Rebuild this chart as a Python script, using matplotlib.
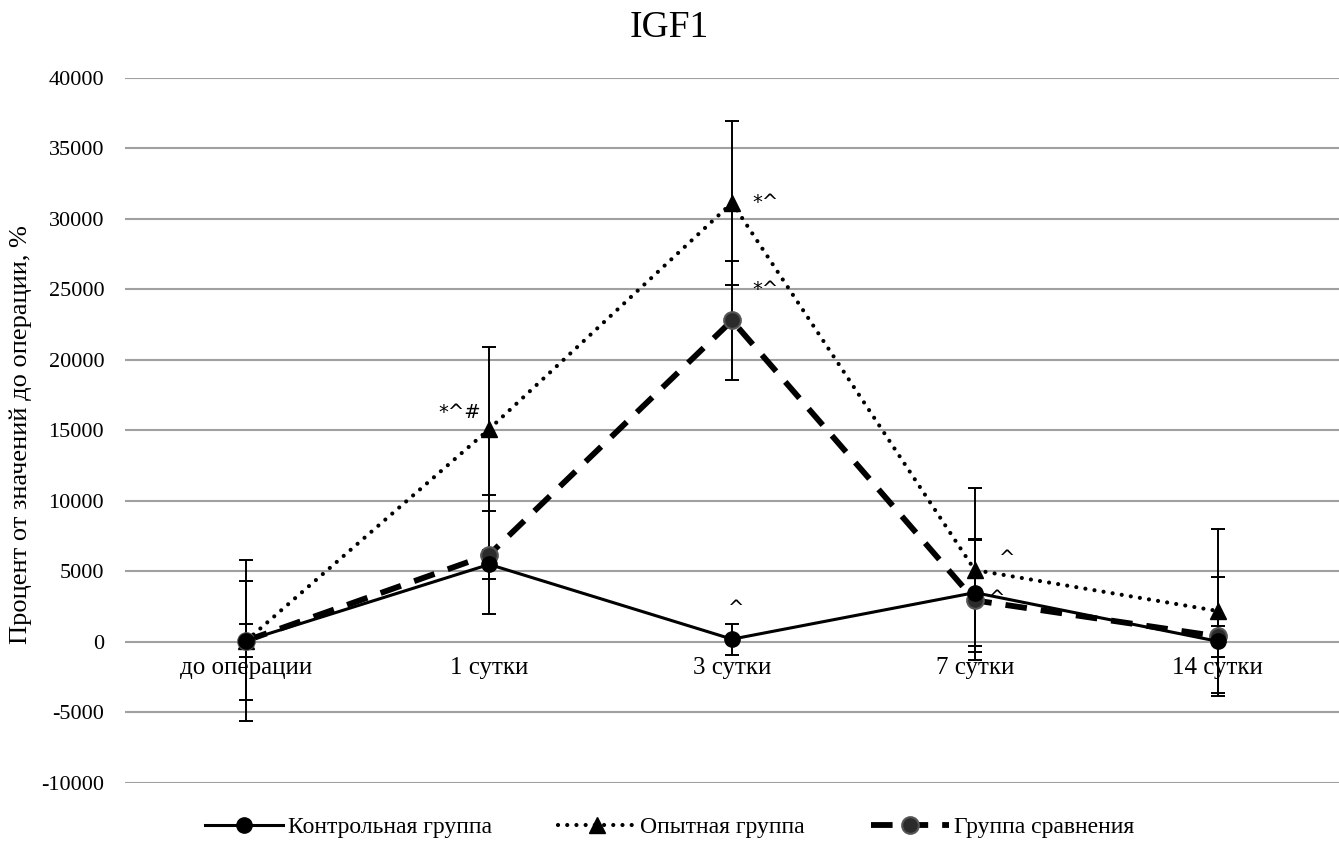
import matplotlib
matplotlib.use("Agg")
import matplotlib.pyplot as plt
import numpy as np

plt.rcParams['font.family'] = ['Liberation Serif', 'DejaVu Serif']

categories = ["до операции", "1 сутки", "3 сутки", "7 сутки", "14 сутки"]

control = [100, 5500, 200, 3500, 50]
control_err = [1200, 1000, 1100, 3800, 1100]

experimental = [100, 15100, 31150, 5100, 2200]
experimental_err = [5700, 5800, 5800, 5800, 5800]

comparison = [100, 6200, 22800, 2950, 400]
comparison_err = [4250, 4200, 4230, 4250, 4200]

series_names = ["Контрольная группа", "Опытная группа", "Группа сравнения"]

# significance marks: (category index, value, text, dx in points, dy in points)
marks = [
    (1, 15100, "*^#", -21, 12),
    (2, 31150, "*^", 24, 0),
    (2, 22800, "*^", 24, 22),
    (2, 200, "^", 3, 22),
    (3, 5100, "^", 23, 8),
    (3, 3500, "^", 16, -4),
]

fig = plt.figure(figsize=(13.39, 8.42), dpi=100)
ax = fig.add_axes([0.0934, 0.0701, 0.9066, 0.8373])

x = np.arange(len(categories)) + 0.5

for vals, errs in ((experimental, experimental_err),
                   (comparison, comparison_err),
                   (control, control_err)):
    ax.errorbar(x, vals, yerr=errs, fmt='none', ecolor='black',
                elinewidth=1.4, capsize=5, capthick=1.4, zorder=3)

l1, = ax.plot(x, control, color='black', lw=2.2, marker='o', ms=11,
              mfc='black', mec='black', zorder=5, label=series_names[0])
l2, = ax.plot(x, experimental, color='black', lw=3, ls=(0, (0.01, 2.2)),
              dash_capstyle='round', marker='^', ms=11, mfc='black', mec='black',
              zorder=4, label=series_names[1])
l3, = ax.plot(x, comparison, color='black', lw=4.2, ls=(0, (3.7, 2.4)),
              marker='o', ms=12, mfc='#2b2b2b', mec='#555555', mew=1.5,
              zorder=4, label=series_names[2])

for i, val, txt, dx, dy in marks:
    ax.annotate(txt, (x[i], val), xytext=(dx, dy), textcoords='offset points',
                ha='center', va='center', fontsize=14, family='DejaVu Sans')

ax.set_xlim(0, len(categories))
ax.set_ylim(-10000, 40000)
ax.set_yticks(np.arange(-10000, 40001, 5000))
ax.set_yticklabels([f"{v:d}" for v in range(-10000, 40001, 5000)])
ax.yaxis.grid(True, color='#a0a0a0', lw=1.5)
ax.set_axisbelow(True)
ax.tick_params(axis='y', length=0, labelsize=16, pad=15)

ax.spines['bottom'].set_position(('data', 0))
for s in ax.spines.values():
    s.set_visible(False)
ax.set_xticks(x)
ax.set_xticklabels(categories)
ax.tick_params(axis='x', length=0, labelsize=18, pad=11)

ax.set_ylabel("Процент от значений до операции, %", fontsize=19)
ax.yaxis.set_label_coords(-0.0766, 0.494)
fig.text(0.5, 0.956, "IGF1", ha='center', va='baseline', fontsize=27)

fig.legend(handles=[l1, l2, l3], loc='center', bbox_to_anchor=(0.5, 0.017),
           ncol=3, frameon=False, fontsize=17, handlelength=3.3,
           columnspacing=2.8, handletextpad=0.2)

fig.savefig("out.png", dpi=100)
